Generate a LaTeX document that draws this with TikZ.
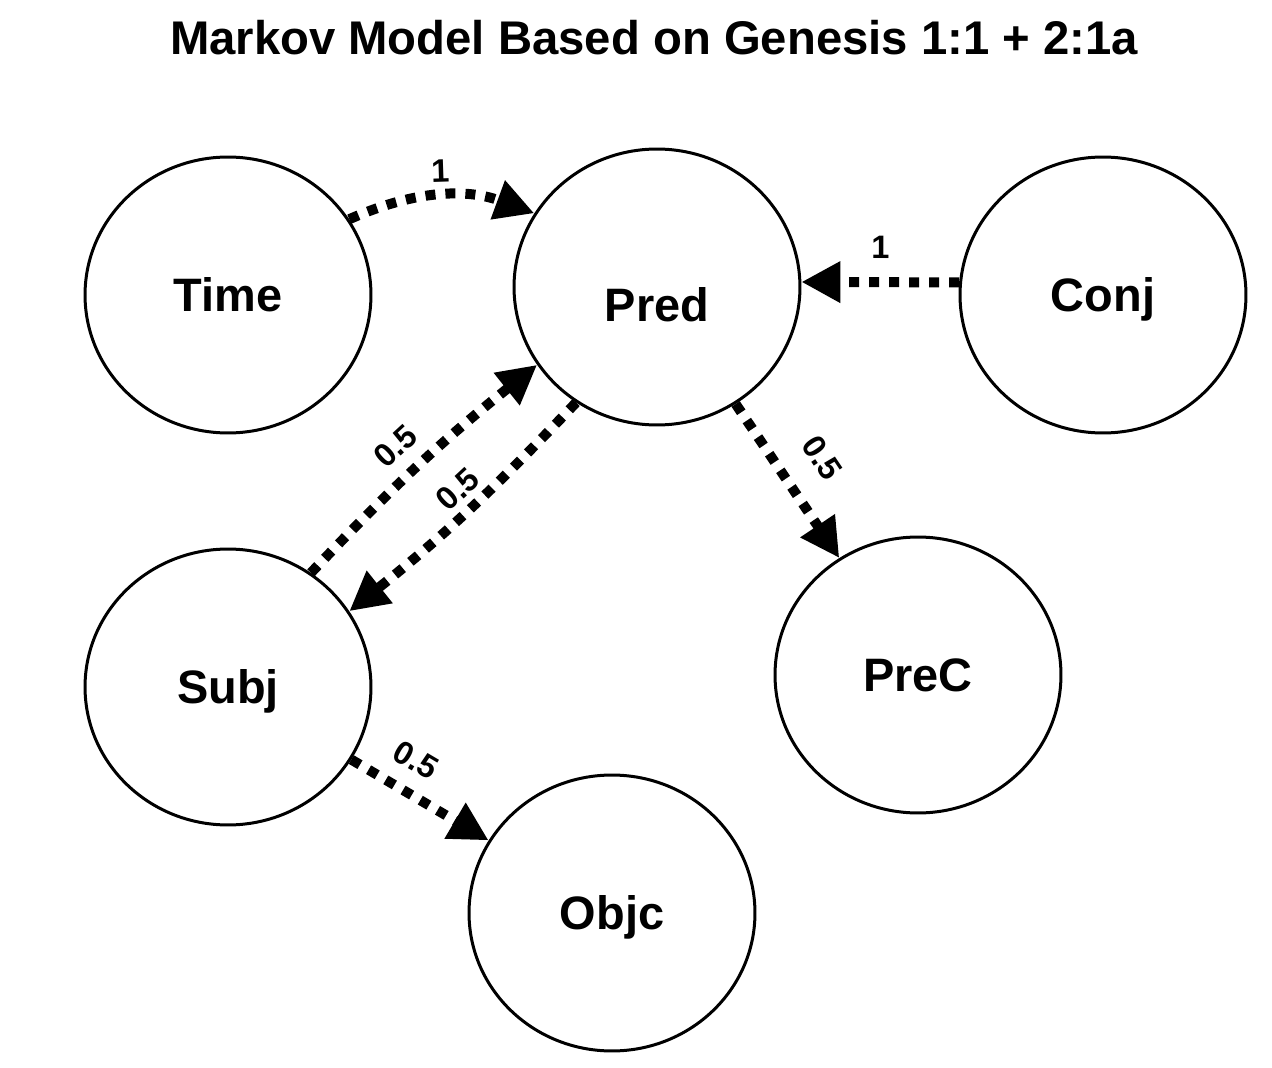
\documentclass[tikz,border=0pt]{standalone}
\usepackage{fontspec}
\setmainfont{Liberation Sans}
\usepackage{tikz}
\usetikzlibrary{arrows.meta, shapes.geometric, positioning}

\tikzset{
  state/.style={draw, ellipse, line width=0.06cm, minimum width=5.72cm,
    minimum height=5.52cm, inner sep=0pt,
    font=\fontsize{26.7}{32}\selectfont\bfseries,
    text height=0.67cm, text depth=0pt},
  trans/.style={line width=0.2cm, dash pattern=on 0.2cm off 0.2cm,
    -{Triangle[length=0.78cm, width=0.78cm]}},
  prob/.style={font=\fontsize{18.5}{21}\selectfont\bfseries, sloped, above},
}

\begin{document}
\begin{tikzpicture}[x=0.02cm, y=-0.02cm]
        \useasboundingbox (0,0) rectangle (1272,1068);
        % Title
        \node[font=\fontsize{26.9}{32}\selectfont\bfseries] (title) at (654,38)
          {Markov Model Based on Genesis 1:1 + 2:1a};
        % States
        \node[state] (time) at (228,295) {Time};
        \node[state, text height=1.39cm] (pred) at (657,287) {Pred};
        \node[state] (conj) at (1103,295) {Conj};
        \node[state] (subj) at (228,687) {Subj};
        \node[state] (prec) at (918,675) {PreC};
        \node[state] (objc) at (612,913) {Objc};
        % Transitions with probabilities
        \draw[trans] (time.32) to[bend left=22]
          node[prob, inner sep=0.17cm] (ptime) {1} (pred.149);
        \draw[trans] (conj.175) --
          node[prob, inner sep=0.38cm] (pconj) {1} (pred.2);
        \draw[trans] (subj.54) to[bend left=4]
          node[prob, pos=0.48, inner sep=0.26cm] (psubj) {0.5} (pred.213);
        \draw[trans] (pred.235) to[bend left=4]
          node[prob, pos=0.47, inner sep=0.12cm] (ppred) {0.5} (subj.32);
        \draw[trans] (pred) --
          node[prob, inner sep=0.5cm] (pprec) {0.5} (prec);
        \draw[trans] (subj) --
          node[prob, pos=0.35, inner sep=0.32cm] (pobjc) {0.5} (objc);
\end{tikzpicture}
\end{document}
